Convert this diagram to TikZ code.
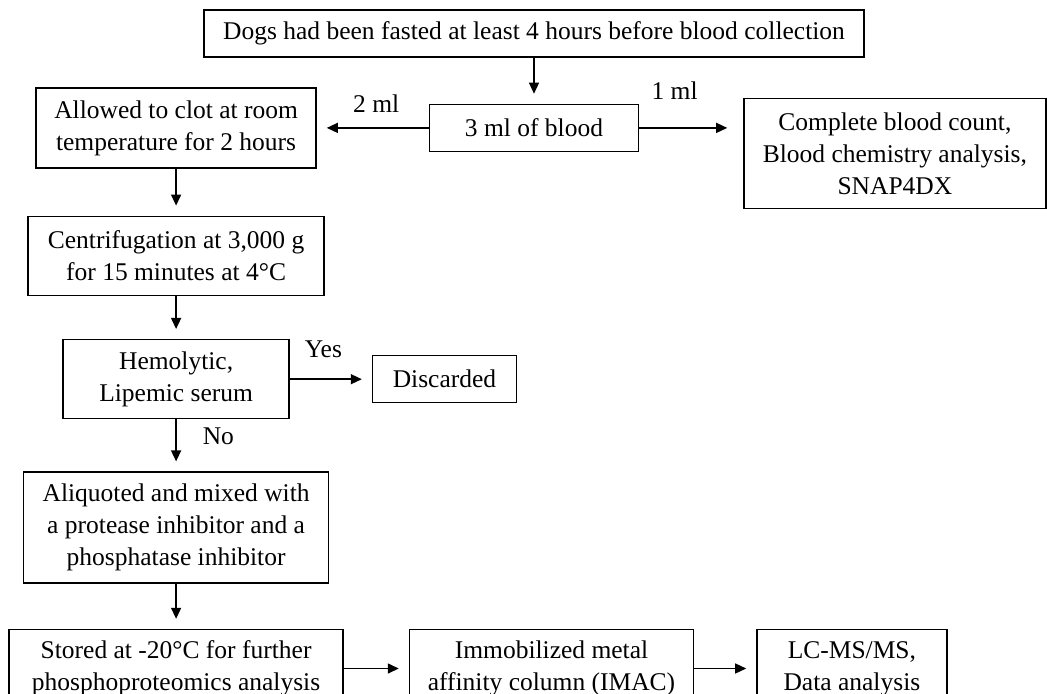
\documentclass[tikz,border=0pt]{standalone}
\usepackage{fontspec}
\setmainfont{Liberation Serif}
\usepackage{tikz}
\usetikzlibrary{arrows.meta,positioning}
\newcommand{\ff}{\fontsize{12.75pt}{16pt}\selectfont}

\begin{document}
\begin{tikzpicture}[
  box/.style={draw,line width=0.7pt,align=center,font=\ff,inner sep=2pt},
  lbl/.style={font=\ff,inner sep=0pt},
  ar/.style={-{Triangle[length=5.5pt,width=5pt]},line width=0.7pt,shorten >=5pt}]
\useasboundingbox (0,0) rectangle (523.5pt,-347pt);
\node[box,minimum width=330pt,minimum height=23.5pt] (fast) at (267pt,-16.75pt) {Dogs had been fasted at least 4 hours before blood collection};
\node[box,minimum width=104.5pt,minimum height=23.5pt,below=23pt of fast] (blood) {3 ml of blood};
\node[box,minimum width=140pt,minimum height=40pt,left=56pt of blood] (clot) {Allowed to clot at room\\temperature for 2 hours};
\node[box,minimum width=151pt,minimum height=55pt,right=52pt of blood.north east,anchor=north west,yshift=3pt] (cbc) {Complete blood count,\\Blood chemistry analysis,\\SNAP4DX};
\node[box,minimum width=148pt,minimum height=39.5pt,below=23.5pt of clot] (spin) {Centrifugation at 3,000 g\\for 15 minutes at 4°C};
\node[box,minimum width=113pt,minimum height=39.5pt,below=21.5pt of spin] (hemo) {Hemolytic,\\Lipemic serum};
\node[box,minimum width=72pt,minimum height=23.5pt,right=41pt of hemo] (discard) {Discarded};
\node[box,minimum width=152.5pt,minimum height=55.5pt,below=26pt of hemo] (aliquot) {Aliquoted and mixed with\\a protease inhibitor and a\\phosphatase inhibitor};
\node[box,minimum width=167pt,minimum height=39pt,below=22.5pt of aliquot] (store) {Stored at -20°C for further\\phosphoproteomics analysis};
\node[box,minimum width=142pt,minimum height=39pt,right=32.5pt of store] (imac) {Immobilized metal\\affinity column (IMAC)};
\node[box,minimum width=95pt,minimum height=39pt,right=31pt of imac] (lcms) {LC-MS/MS,\\Data analysis};
\draw[ar] (fast) -- (blood);
\draw[ar] (blood) -- node[lbl,above=7.5pt,pos=.47]{2 ml} (clot);
\draw[ar,shorten >=8pt] (blood.east) -- node[lbl,above=13.75pt,pos=.34]{1 ml} (blood.east -| cbc.west);
\draw[ar] (clot) -- (spin);
\draw[ar] (spin) -- (hemo);
\draw[ar] (hemo) -- node[lbl,above=10.25pt,pos=.41]{Yes} (discard);
\draw[ar] (hemo) -- node[lbl,right=13pt,pos=.32]{No} (aliquot);
\draw[ar] (aliquot) -- (store);
\draw[ar] (store) -- (imac);
\draw[ar] (imac) -- (lcms);
\end{tikzpicture}
\end{document}
